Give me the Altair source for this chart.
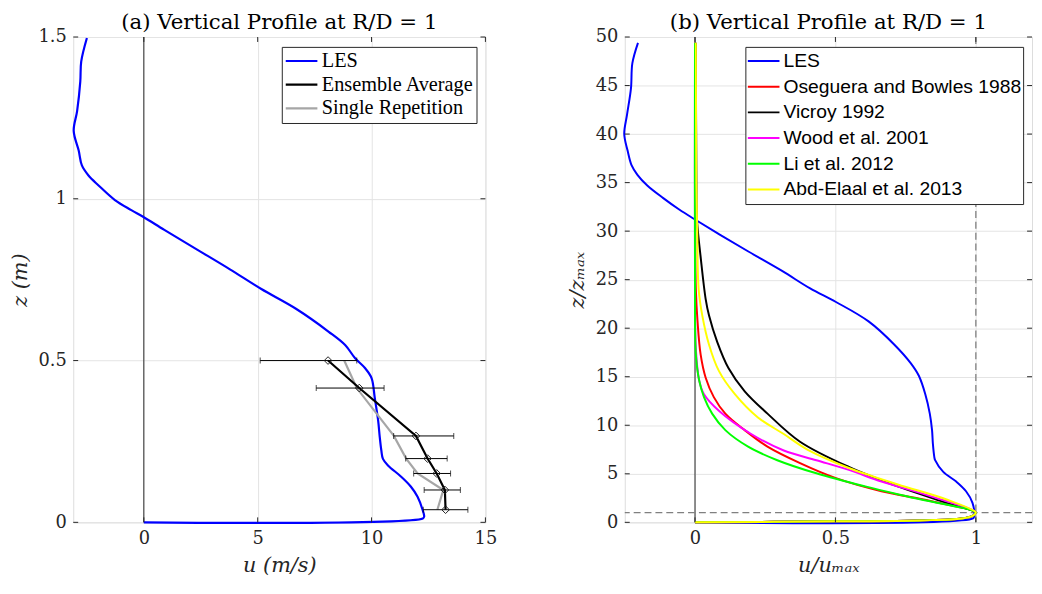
import altair as alt
import pandas as pd

# ---------------- Panel (a) data ----------------
les_u = [-2.5, -2.75, -2.79, -2.93, -3.08, -2.86, -2.72, -2.43, -2.0, -1.27, -0.55, 0.0, 0.9, 2.34,
         3.78, 5.16, 6.68, 8.12, 8.84, 9.28, 9.71, 10.0, 10.14, 10.29, 10.36, 10.43, 10.5, 10.72,
         11.3, 11.73, 12.02, 12.24, 12.31, 12.25, 0.0]
les_z = [1.497, 1.424, 1.363, 1.271, 1.21, 1.149, 1.103, 1.072, 1.042, 0.996, 0.965, 0.943, 0.904, 0.843,
         0.782, 0.721, 0.66, 0.589, 0.548, 0.507, 0.477, 0.446, 0.385, 0.314, 0.263, 0.222, 0.196, 0.176,
         0.141, 0.11, 0.079, 0.039, 0.018, 0.012, 0.0]

meas_z = [0.5, 0.415, 0.267, 0.197, 0.151, 0.1, 0.039]
ens_u = [8.09, 9.46, 11.95, 12.46, 12.86, 13.22, 13.25]
err_lo = [5.11, 7.57, 10.97, 11.5, 11.85, 12.31, 12.27]
err_hi = [9.35, 10.55, 13.61, 13.32, 13.47, 13.9, 14.23]
single_u = [8.8, 9.35, 10.98, 11.52, 12.02, 13.15, 12.89]

a_xticks = [0, 5, 10, 15]
a_yticks = [0, 0.5, 1, 1.5]
a_series = ["LES", "Ensemble Average", "Single Repetition"]
a_colors = ["#0000ff", "#000000", "#a6a6a6"]
a_widths = [2.2, 2.2, 1.2]

# ---------------- Panel (b) data ----------------
r_les = [-0.203, -0.223, -0.228, -0.242, -0.252, -0.24, -0.226, -0.205, -0.17, -0.113, -0.055, 0.0,
         0.085, 0.19, 0.31, 0.41, 0.502, 0.618, 0.71, 0.768, 0.797, 0.82, 0.836, 0.844, 0.847, 0.852,
         0.855, 0.884, 0.93, 0.965, 0.988, 0.994, 0.99, 0.0]
zz_les = [49.4, 47.3, 44.7, 42.0, 40.0, 38.3, 36.8, 35.8, 34.7, 33.4, 32.2, 31.2,
          29.7, 27.9, 25.9, 24.1, 22.7, 20.7, 18.3, 16.4, 15.1, 13.2, 11.2, 9.5, 8.1, 6.75,
          6.4, 5.2, 4.2, 3.2, 2.0, 0.64, 0.4, 0.0]

# wall-jet region below the peak (shared by the models)
bot_r = [0.99, 0.95, 0.8, 0.5, 0.0]
bot_zz = [0.7, 0.4, 0.2, 0.1, 0.0]

ose_r = [0.0, 0.001, 0.003, 0.009, 0.02, 0.038, 0.067, 0.108, 0.177, 0.258, 0.374, 0.502, 0.664, 0.838, 1.0]
ose_zz = [49.4, 30.0, 24.0, 20.7, 17.3, 14.9, 12.9, 11.2, 9.5, 7.8, 6.1, 4.55, 3.2, 2.2, 1.0]

vic_r = [0.003, 0.005, 0.007, 0.021, 0.038, 0.05, 0.079, 0.119, 0.177, 0.258, 0.374, 0.548, 0.722, 0.896, 1.0]
vic_zz = [49.4, 35.0, 31.2, 27.1, 23.0, 21.3, 18.6, 15.9, 13.5, 11.2, 8.3, 5.7, 3.7, 2.0, 1.0]

wood_r = [0.0, 0.0, 0.003, 0.015, 0.032, 0.085, 0.2, 0.316, 0.432, 0.548, 0.664, 0.838, 1.0]
wood_zz = [49.4, 25.0, 17.9, 14.6, 13.2, 11.5, 9.1, 7.4, 6.4, 5.4, 4.2, 2.7, 1.0]

li_r = [0.0, 0.0, 0.003, 0.015, 0.032, 0.061, 0.108, 0.189, 0.293, 0.432, 0.606, 0.78, 1.0]
li_zz = [49.4, 25.0, 17.3, 14.6, 12.9, 11.2, 9.5, 7.8, 6.4, 5.05, 3.7, 2.5, 1.0]

abd_r = [0.003, 0.005, 0.008, 0.013, 0.026, 0.05, 0.085, 0.142, 0.224, 0.316, 0.40, 0.548, 0.722, 0.896, 1.0]
abd_zz = [49.4, 35.0, 30.0, 24.0, 21.3, 18.3, 15.6, 13.2, 10.8, 9.1, 7.5, 5.6, 3.9, 2.35, 1.0]

b_xticks = [0, 0.5, 1]
b_yticks = [0, 5, 10, 15, 20, 25, 30, 35, 40, 45, 50]
b_series = ["LES", "Oseguera and Bowles 1988", "Vicroy 1992", "Wood et al. 2001",
            "Li et al. 2012", "Abd-Elaal et al. 2013"]
b_colors = ["#0000ff", "#ff0000", "#000000", "#ff00ff", "#00ff00", "#ffff00"]

# ---------------- style ----------------
SERIF = "DejaVu Serif"
AX = "#262626"
GRID = "#e4e4e4"
W1, W2, H = 417, 412, 491
TICK = 5
CURVE = "catmull-rom"


def line_df(xs, ys, name):
    return pd.DataFrame({"x": xs, "y": ys, "series": name, "i": list(range(len(xs)))})


def make_axis(values, title, orient):
    return alt.Axis(values=values, format="~g", grid=True, gridColor=GRID, gridWidth=1,
                    domain=False, ticks=False, labelFont=SERIF, labelFontSize=18,
                    labelColor=AX, labelPadding=7, title=title, titleFont=SERIF,
                    titleFontStyle="italic", titleFontWeight="normal", titleFontSize=21,
                    titleColor=AX, titlePadding=8, orient=orient, labelFlush=False)


def inner_ticks(xt, yt, X, Y, w):
    xdf = pd.DataFrame({"x": xt})
    ydf = pd.DataFrame({"y": yt})
    base_rule = dict(color=AX, strokeWidth=1)
    t1 = alt.Chart(xdf).mark_rule(**base_rule).encode(
        x=X, y=alt.value(H - TICK), y2=alt.value(H))
    t2 = alt.Chart(xdf).mark_rule(**base_rule).encode(
        x=X, y=alt.value(0), y2=alt.value(TICK))
    t3 = alt.Chart(ydf).mark_rule(**base_rule).encode(
        y=Y, x=alt.value(0), x2=alt.value(TICK))
    t4 = alt.Chart(ydf).mark_rule(**base_rule).encode(
        y=Y, x=alt.value(w - TICK), x2=alt.value(w))
    return [t1, t2, t3, t4]


# ---------------- Panel (a) ----------------
xs_a = alt.Scale(domain=[-3.1, 15], nice=False, zero=False)
ys_a = alt.Scale(domain=[0, 1.5], nice=False, zero=False)
X_a = alt.X("x:Q", scale=xs_a, axis=make_axis(a_xticks, "u (m/s)", "bottom"))
Y_a = alt.Y("y:Q", scale=ys_a, axis=make_axis(a_yticks, "z (m)", "left"))

legend_a = alt.Legend(title=None, orient="top-right", offset=9.5, fillColor="white",
                      strokeColor=AX, padding=2.5, cornerRadius=0,
                      symbolType="stroke", symbolSize=1024, labelOffset=3,
                      labelFont="Liberation Serif", labelFontSize=20.5, labelColor="black",
                      labelLimit=400, clipHeight=23.5, rowPadding=0)
col_a = alt.Color("series:N", scale=alt.Scale(domain=a_series, range=a_colors),
                  legend=legend_a, sort=a_series)
sw_a = alt.StrokeWidth("series:N", scale=alt.Scale(domain=a_series, range=a_widths),
                       legend=legend_a, sort=a_series)

zero_a = alt.Chart(pd.DataFrame({"x": [0]})).mark_rule(color=AX, strokeWidth=1).encode(x=X_a)

les_a = alt.Chart(line_df(les_u, les_z, "LES")).mark_line(interpolate=CURVE).encode(
    x=X_a, y=Y_a, color=col_a, strokeWidth=sw_a, order="i:Q")
single_a = alt.Chart(line_df(single_u, meas_z, "Single Repetition")).mark_line().encode(
    x=X_a, y=Y_a, color=col_a, strokeWidth=sw_a, order="i:Q")

err_df = pd.DataFrame({"x": err_lo, "x2": err_hi, "y": meas_z})
hi_df = pd.DataFrame({"x": err_hi, "y": meas_z})
err_a = alt.Chart(err_df).mark_rule(color="black", strokeWidth=1).encode(
    x=X_a, x2="x2:Q", y=Y_a)
cap_lo = alt.Chart(err_df).mark_tick(color="black", orient="vertical", size=6, thickness=1).encode(
    x=X_a, y=Y_a)
cap_hi = alt.Chart(hi_df).mark_tick(color="black", orient="vertical", size=6, thickness=1).encode(
    x=X_a, y=Y_a)

ens_df = line_df(ens_u, meas_z, "Ensemble Average")
ens_a = alt.Chart(ens_df).mark_line().encode(
    x=X_a, y=Y_a, color=col_a, strokeWidth=sw_a, order="i:Q")
dia_a = alt.Chart(ens_df).mark_point(shape="diamond", filled=False, color="#222222",
                                      size=60, strokeWidth=1, opacity=1).encode(x=X_a, y=Y_a)

panel_a = alt.layer(
    zero_a, les_a, single_a, err_a, cap_lo, cap_hi, ens_a, dia_a,
    *inner_ticks(a_xticks, a_yticks, X_a, Y_a, W1)
).properties(
    width=W1, height=H,
    title=alt.Title("(a) Vertical Profile at R/D = 1", font=SERIF, fontSize=21.5,
                    fontWeight="normal", color="black", offset=-5)
)

# ---------------- Panel (b) ----------------
xs_b = alt.Scale(domain=[-0.25, 1.2], nice=False, zero=False)
ys_b = alt.Scale(domain=[0, 50], nice=False, zero=False)
X_b = alt.X("x:Q", scale=xs_b, axis=make_axis(b_xticks, "u/uₘₐₓ", "bottom"))
Y_b = alt.Y("y:Q", scale=ys_b, axis=make_axis(b_yticks, "z/zₘₐₓ", "left"))

legend_b = alt.Legend(title=None, orient="top-right", offset=9.5, fillColor="white",
                      strokeColor=AX, padding=1.5, cornerRadius=0,
                      symbolType="stroke", symbolSize=1024, symbolStrokeWidth=2, labelOffset=3,
                      labelFont="Liberation Sans", labelFontSize=19.5, labelColor="black",
                      labelLimit=400, clipHeight=25.5, rowPadding=0)
col_b = alt.Color("series:N", scale=alt.Scale(domain=b_series, range=b_colors),
                  legend=legend_b, sort=b_series)

zero_b = alt.Chart(pd.DataFrame({"x": [0]})).mark_rule(color=AX, strokeWidth=1).encode(x=X_b)
vdash_b = alt.Chart(pd.DataFrame({"x": [1]})).mark_rule(
    color="#808080", strokeWidth=1.3, strokeDash=[7, 4]).encode(x=X_b)
hdash_b = alt.Chart(pd.DataFrame({"y": [1]})).mark_rule(
    color="#808080", strokeWidth=1.3, strokeDash=[7, 4]).encode(y=Y_b)

model_frames = [line_df(r_les, zz_les, b_series[0])]
for name, rr, zz in [(b_series[1], ose_r, ose_zz), (b_series[2], vic_r, vic_zz),
                     (b_series[3], wood_r, wood_zz), (b_series[4], li_r, li_zz),
                     (b_series[5], abd_r, abd_zz)]:
    model_frames.append(line_df(rr + bot_r, zz + bot_zz, name))

lines_b = [
    alt.Chart(df).mark_line(strokeWidth=2, interpolate=CURVE).encode(
        x=X_b, y=Y_b, color=col_b, order="i:Q")
    for df in model_frames
]

panel_b = alt.layer(
    zero_b, vdash_b, hdash_b, *lines_b,
    *inner_ticks(b_xticks, b_yticks, X_b, Y_b, W2)
).properties(
    width=W2, height=H,
    title=alt.Title("(b) Vertical Profile at R/D = 1", font=SERIF, fontSize=21.5,
                    fontWeight="normal", color="black", offset=-5)
)

chart = alt.hconcat(panel_a, panel_b, spacing=69).resolve_scale(
    color="independent", strokeWidth="independent", x="independent", y="independent"
).properties(padding=0).configure_view(stroke=AX, strokeWidth=1).configure(background="white")

chart.save("out.html", embed_options={"renderer": "svg", "actions": False})
